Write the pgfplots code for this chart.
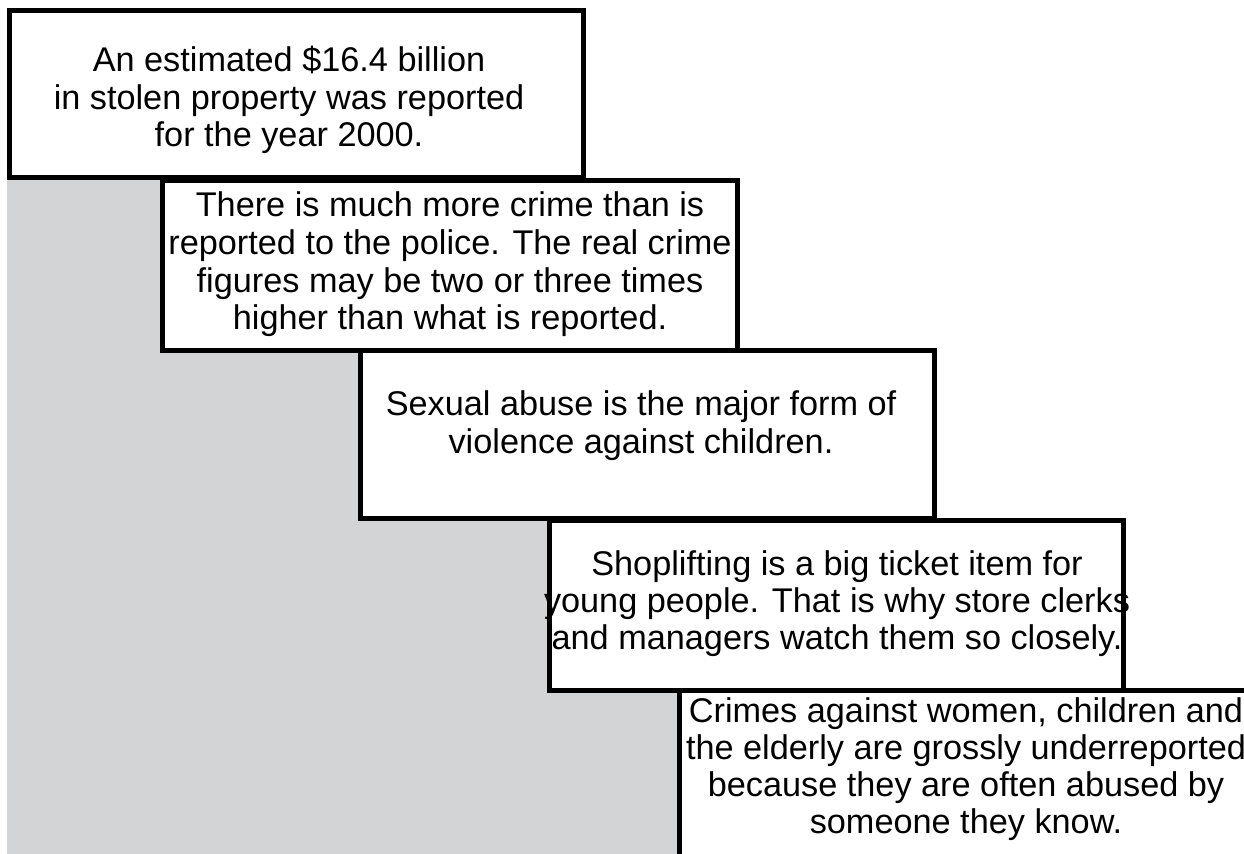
\documentclass[border=0pt]{standalone}
\usepackage{pgfplots}
\pgfplotsset{compat=1.18}
\usepackage{fontspec}
\setmainfont{Liberation Sans}
\definecolor{bggray}{RGB}{211,212,214}
\tikzset{lbl/.style={inner sep=0pt, outer sep=0pt, anchor=base, font=\fontsize{9.75}{11}\selectfont}}
\begin{document}
\begin{tikzpicture}
\begin{axis}[
  scale only axis, width=12.44cm, height=8.53cm,
  xmin=0, xmax=1244, ymin=0, ymax=853, y dir=reverse,
  hide axis, clip=true,
]
% grey staircase background
\addplot[fill=bggray, draw=none] coordinates {(7,177) (162,177) (162,350) (360,350) (360,518) (549,518) (549,690) (679,690) (679,870) (7,870)} -- cycle;
% boxes
\addplot[fill=white, draw=black, line width=0.5mm] coordinates {(9.5,10) (583,10) (583,177.5) (9.5,177.5)} -- cycle;
\addplot[fill=white, draw=black, line width=0.5mm] coordinates {(162,180) (737,180) (737,350) (162,350)} -- cycle;
\addplot[fill=white, draw=black, line width=0.5mm] coordinates {(360,350) (934,350) (934,518) (360,518)} -- cycle;
\addplot[fill=white, draw=black, line width=0.5mm] coordinates {(549,520) (1123,520) (1123,690) (549,690)} -- cycle;
\addplot[fill=white, draw=black, line width=0.5mm] coordinates {(679,690) (1270,690) (1270,880) (679,880)} -- cycle;
% texts
\node[lbl] at (axis cs:289,71) {An estimated \$16.4 billion};
\node[lbl] at (axis cs:289,109) {in stolen property was reported};
\node[lbl] at (axis cs:289,146) {for the year 2000.};
\node[lbl] at (axis cs:450,216) {There is much more crime than is};
\node[lbl] at (axis cs:450,254) {reported to the police. The real crime};
\node[lbl] at (axis cs:450,292) {figures may be two or three times};
\node[lbl] at (axis cs:450,329) {higher than what is reported.};
\node[lbl] at (axis cs:641,415) {Sexual abuse is the major form of};
\node[lbl] at (axis cs:641,453) {violence against children.};
\node[lbl] at (axis cs:837,575) {Shoplifting is a big ticket item for};
\node[lbl] at (axis cs:837,612) {young people. That is why store clerks};
\node[lbl] at (axis cs:837,649) {and managers watch them so closely.};
\node[lbl] at (axis cs:966,722) {Crimes against women, children and};
\node[lbl] at (axis cs:966,759) {the elderly are grossly underreported};
\node[lbl] at (axis cs:966,796) {because they are often abused by};
\node[lbl] at (axis cs:966,833) {someone they know.};
\end{axis}
\pgfresetboundingbox
\path[use as bounding box] (current axis.south west) rectangle (current axis.north east);
\end{tikzpicture}
\end{document}
